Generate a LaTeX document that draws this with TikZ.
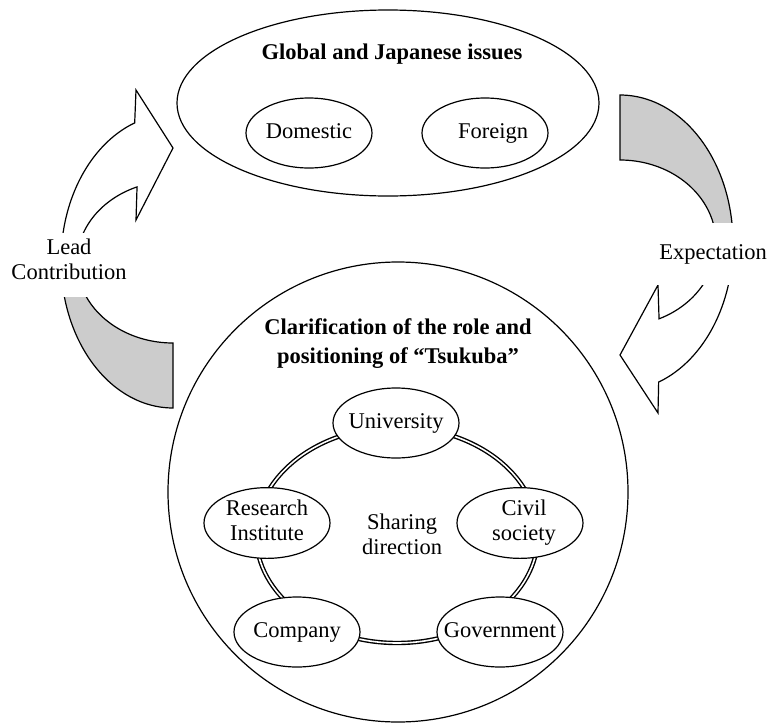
\documentclass[tikz,border=0pt]{standalone}
\usepackage{fontspec}
\setmainfont{Liberation Serif}
\usetikzlibrary{shapes.geometric}

% centred text whose box does not widen the surrounding ellipse
\newcommand{\ctrtext}[1]{\makebox[0pt]{\begin{tabular}{@{}c@{}}#1\end{tabular}}}

\begin{document}
\begin{tikzpicture}[x=1pt,y=-1pt,
  lbl/.style={font=\fontsize{22.5}{25}\selectfont},
  title/.style={font=\fontsize{22.5}{29}\selectfont\bfseries,align=center,inner sep=0pt},
  outline/.style={draw=black,line width=1.2pt},
  bigshape/.style={outline,inner sep=0pt},
  actor/.style={lbl,ellipse,outline,fill=white,inner sep=0pt,
                minimum width=126pt,minimum height=70pt},
  ringline/.style={ellipse,draw=black,double=white,line width=1.4pt,
                   double distance=1.6pt,inner sep=0pt},
  bandwhite/.style={outline,fill=white,line join=miter},
  bandgray/.style={outline,fill=black!20},
  mask/.style={lbl,fill=white,align=center,inner xsep=3pt}
]
\useasboundingbox (0,0) rectangle (771,723);

% ---- left curved arrow (rising towards the issues) ----
\filldraw[bandgray]
  plot[domain=90:180,samples=60] ({173+112*cos(\x)},{261+147*sin(\x)})
  -- plot[domain=180:90,samples=60] ({173+96*cos(\x)},{262+81*sin(\x)})
  -- cycle;
\filldraw[bandwhite]
  plot[domain=180:250,samples=60] ({173+112*cos(\x)},{261+147*sin(\x)})
  -- (136,90) -- (173,148) -- (136,220)
  -- plot[domain=248:180,samples=60] ({173+96*cos(\x)},{262+81*sin(\x)})
  -- cycle;

% ---- right curved arrow (descending towards Tsukuba) ----
\filldraw[bandgray]
  plot[domain=270:360,samples=60] ({620+113*cos(\x)},{243+148*sin(\x)})
  -- plot[domain=360:270,samples=60] ({620+96*cos(\x)},{243+83*sin(\x)})
  -- cycle;
\filldraw[bandwhite]
  plot[domain=0:70,samples=60] ({620+113*cos(\x)},{243+148*sin(\x)})
  -- (658,413) -- (620,355) -- (658,285)
  -- plot[domain=66:0,samples=60] ({620+96*cos(\x)},{243+83*sin(\x)})
  -- cycle;

% ---- arrow captions ----
\node[mask,inner ysep=6pt] (lead) at (69,265)
  {Lead\\Contribution\rule[-12pt]{0pt}{0pt}};
\node[mask,inner ysep=0pt,minimum height=62pt] (expect) at (713,254) {Expectation};

% ---- upper block: issues ----
\node[bigshape,ellipse,minimum width=422pt,minimum height=186pt] (issues) at (388,103) {};
\node[title] (issuestitle) at (392,54) {Global and Japanese issues};
\node[actor] (dom) at (309,133) {\ctrtext{Domestic}};
\node[actor] (for) at (485,133) {\ctrtext{\hspace*{16pt}Foreign}};

% ---- lower block: Tsukuba ----
\node[bigshape,circle,minimum size=460pt] (tsukuba) at (398,492) {};
\node[title] (tsukubatitle) at (398,344)
  {Clarification of the role and\\positioning of “Tsukuba”};

\node[ringline,minimum width=282pt,minimum height=216pt] (ring) at (397,535) {};
\node[lbl,align=center,inner sep=0pt] (share) at (402,534) {Sharing\\direction};

\node[actor] (univ) at (396,423) {\ctrtext{University}};
\node[actor] (res)  at (267,523) {\ctrtext{Research\\Institute}};
\node[actor] (civ)  at (520,523) {\ctrtext{\hspace*{8pt}Civil\\\hspace*{8pt}society}};
\node[actor] (comp) at (297,632) {\ctrtext{Company}};
\node[actor] (gov)  at (500,632) {\ctrtext{Government}};
\end{tikzpicture}
\end{document}
